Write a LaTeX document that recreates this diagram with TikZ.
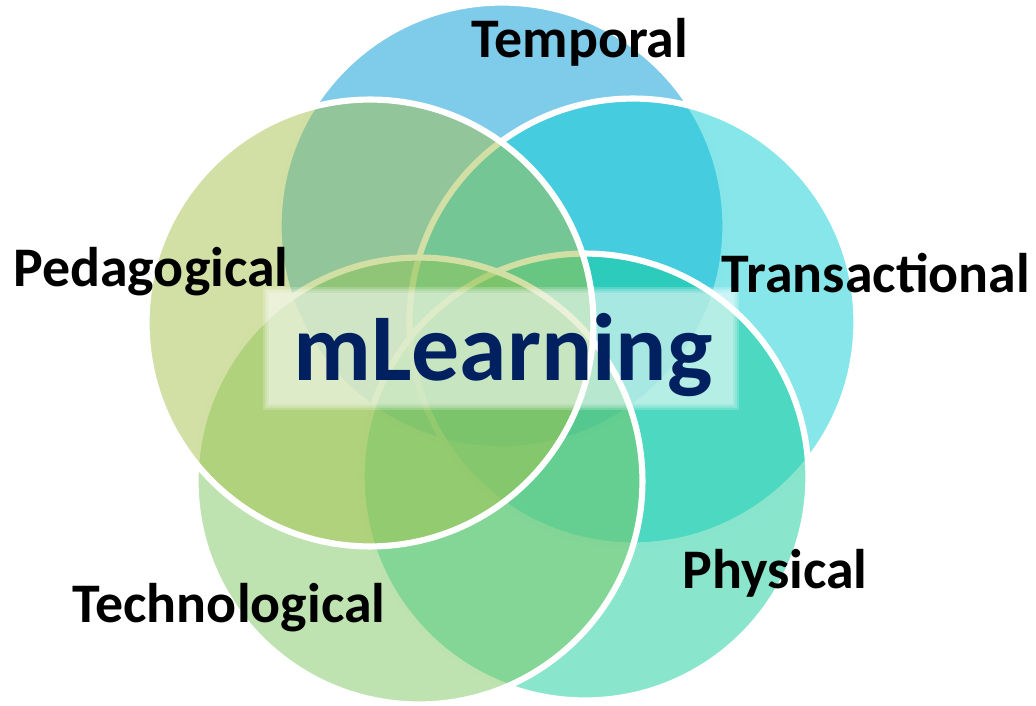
\documentclass[tikz,border=0pt]{standalone}
\usepackage{fontspec}
\setmainfont{Carlito}
\usepackage{tikz}
\usetikzlibrary{positioning}

\definecolor{temporalcol}{RGB}{0,151,213}
\definecolor{transactcol}{RGB}{13,205,213}
\definecolor{physicalcol}{RGB}{21,203,155}
\definecolor{technocol}{RGB}{125,199,97}
\definecolor{pedacol}{RGB}{165,193,75}
\definecolor{mnavy}{RGB}{0,32,96}

\tikzset{
  petal/.style={circle,draw=white,line width=3.5pt,fill=#1,fill opacity=0.5,
    inner sep=0pt,minimum size=8.94cm},
  dimlabel/.style={anchor=base,inner sep=0pt,text=black,
    font=\fontsize{31.8}{38}\selectfont\bfseries},
}

\begin{document}
\begin{tikzpicture}[x=0.02cm,y=-0.02cm]
        \useasboundingbox (0,0) rectangle (1036,706);
        % the five circles, back to front
        \node[petal=temporalcol] (temporal) at (502,226) {};
        \node[petal=transactcol] (transact) at (633,322) {};
        \node[petal=physicalcol] (physical) at (585,477) {};
        \node[petal=technocol] (techno) at (419,481) {};
        \node[petal=pedacol] (peda) at (370,323) {};
        % soft white panel
        \foreach \d in {0,2,4,6}
            \fill[white,opacity=0.2] (263+\d,287+\d) rectangle (739-\d,410-\d);
        \node[anchor=base,inner sep=0pt,text=mnavy,font=\fontsize{54.5}{60}\selectfont\bfseries] (mlearn) at (503,380) {mLearning};
        % labels
        \node[dimlabel] (ltemporal) at (580,58) {Temporal};
        \node[dimlabel] (ltransact) at (876,293) {Transactional};
        \node[dimlabel] (lphysical) at (775,588) {Physical};
        \node[dimlabel] (ltechno) at (229,622) {Technological};
        \node[dimlabel] (lpeda) at (151,287) {Pedagogical};
    \end{tikzpicture}
\end{document}
